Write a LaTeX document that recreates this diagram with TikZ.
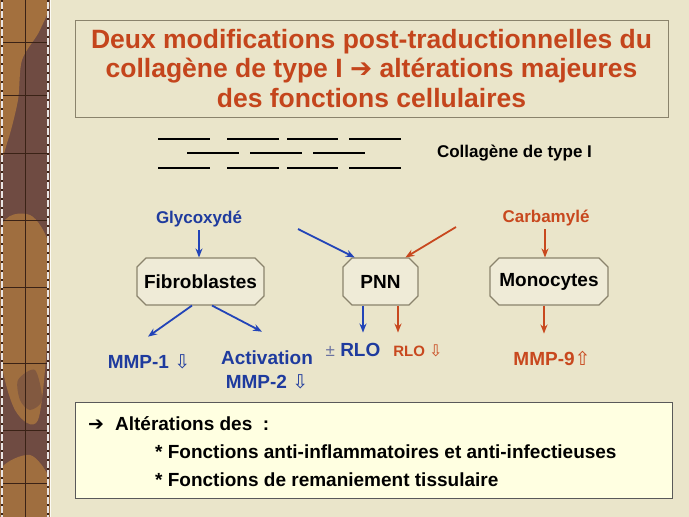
\documentclass[tikz,border=0pt]{standalone}
\usepackage{fontspec}
\setmainfont{Liberation Sans}
\newfontfamily\symfont{DejaVu Sans}
\usetikzlibrary{arrows.meta,positioning,shapes.misc}
\definecolor{parch}{HTML}{EAE5CA}
\definecolor{bark}{HTML}{6F4B42}
\definecolor{ochre}{HTML}{B07A3E}
\definecolor{grain}{HTML}{3A2216}
\definecolor{ttl}{HTML}{C4451C}
\definecolor{blu}{HTML}{1F3B9E}
\definecolor{arrblu}{HTML}{2244B8}
\definecolor{rst}{HTML}{C8481E}
\definecolor{edge}{HTML}{8A836C}
\definecolor{cellfill}{HTML}{EFEBD7}
\definecolor{note}{HTML}{FFFFE1}
\definecolor{pm}{HTML}{6A72A0}
\newcommand\heavyarr{{\symfont\mdseries ➔}}
\newcommand\hdown{{\symfont\mdseries\fontsize{19}{19}\selectfont ⇩}}
\newcommand\hup{{\symfont\mdseries\fontsize{19}{19}\selectfont ⇧}}
\tikzset{
  >={Stealth[length=9pt,width=7pt]},
  cell/.style={chamfered rectangle,chamfered rectangle xsep=4.5pt,chamfered rectangle ysep=4.5pt,
    draw=edge,fill=cellfill,line width=1.1pt,minimum height=47pt,inner sep=0pt,
    font=\fontsize{19}{22}\selectfont\bfseries},
  lbl/.style={font=\fontsize{17}{20}\selectfont\bfseries,inner sep=3pt},
  big/.style={font=\fontsize{19}{24}\selectfont\bfseries,inner sep=3pt,align=center},
  fiber/.style={line width=2.6pt,black},
  barr/.style={->,draw=arrblu,line width=1.8pt},
  rarr/.style={->,draw=rst,line width=1.8pt},
  notetxt/.style={font=\fontsize{19}{22}\selectfont\bfseries,inner sep=0pt,anchor=west},
}
\begin{document}
\begin{tikzpicture}[x=1pt,y=-1pt]
\useasboundingbox (0,0) rectangle (689,517);
\fill[parch] (0,0) rectangle (689,517);
% bark strip on the left
\begin{scope}
\clip (0,0) rectangle (50,517);
\fill[bark] (0,0) rectangle (50,517);
\fill[ochre,opacity=.8] plot[smooth cycle] coordinates {(0,0) (48,0) (40,30) (22,60) (18,100) (8,140) (0,150)};
\fill[ochre,opacity=.75] plot[smooth cycle] coordinates {(0,230) (30,215) (50,250) (48,330) (38,420) (15,410) (0,350)};
\fill[ochre,opacity=.75] plot[smooth cycle] coordinates {(0,470) (30,455) (50,480) (50,517) (0,517)};
\fill[bark,opacity=.6] plot[smooth cycle] coordinates {(18,380) (35,370) (42,400) (30,410) (20,400)};
\draw[grain,line width=0.8pt] (25,0) -- (25,517);
\foreach \yy in {42,95,153,220,287,363,430,483}
  \draw[grain,line width=0.8pt] (3,\yy) -- (47,\yy);
\draw[white!85!bark,line width=1.2pt] (2,0) -- (2,517) (48,0) -- (48,517);
\draw[grain,line width=1.6pt,dash pattern=on 2pt off 7pt] (2,0) -- (2,517) (48,0) -- (48,517);
\end{scope}
\draw[white!80!parch,line width=1pt] (50,0) -- (50,517);

% title
\node[draw=edge,line width=0.8pt,minimum width=593pt,minimum height=97pt,inner sep=0pt,
  align=center,text=ttl,font=\fontsize{26.5}{29.5}\selectfont\bfseries] (title) at (371.5,68.5)
  {Deux modifications post-traductionnelles du\\collagène de type I \heavyarr{} altérations majeures\\des fonctions cellulaires};

% collagen fibres
\foreach \xa/\xb in {158/210,227/279,287/338,349/401}{
  \draw[fiber] (\xa,139) -- (\xb,139);
  \draw[fiber] (\xa,168) -- (\xb,168);
}
\foreach \xa/\xb in {187/239,250/302,313/365}
  \draw[fiber] (\xa,153) -- (\xb,153);
\node[lbl] (colltxt) at (514.5,153) {Collagène de type I};

% cells
\node[cell,minimum width=127pt] (fib) at (200.5,281.5) {Fibroblastes};
\node[cell,minimum width=75pt] (pnn) at (380.5,281.5) {PNN};
\node[cell,minimum width=118pt] (mono) at (549,281.5) {Monocytes};

\node[lbl,text=blu] (glyc) at (199,219) {Glycoxydé};
\node[lbl,text=rst] (carb) at (546,218) {Carbamylé};
\coordinate (bsrc) at (298,229);
\coordinate (rsrc) at (456,227);

% outputs
\node[big,text=blu] (mmp1) at (149,362) {MMP-1 \hdown};
\node[big,text=blu] (act) at (267,370) {Activation\\MMP-2 \hdown};
\node[big,text=blu] (rlo1) at (353,350) {{\mdseries\fontsize{17}{17}\selectfont\color{pm}±} RLO};
\node[lbl,text=rst,font=\fontsize{15}{18}\selectfont\bfseries] (rlo2) at (418,351) {RLO {\symfont\mdseries\fontsize{16}{16}\selectfont ⇩}};
\node[big,text=rst] (mmp9) at (552,358) {MMP-9\hup};

% arrows
\draw[barr] (glyc.south) -- (glyc.south |- fib.north);
\draw[rarr] ([xshift=-1pt]carb.south) -- ([xshift=-1pt]carb.south |- mono.north);
\draw[barr] (bsrc) -- (pnn.137);
\draw[rarr] (rsrc) -- (pnn.44);
\draw[barr] ([xshift=-8.5pt]fib.south) -- ([xshift=-1pt,yshift=15pt]mmp1.north);
\draw[barr] ([xshift=11.5pt]fib.south) -- ([xshift=-5pt,yshift=16pt]act.north);
\draw[barr] ([xshift=-17.5pt]pnn.south) -- ([xshift=-17.5pt,yshift=-27pt]pnn.south);
\draw[rarr] ([xshift=17.5pt]pnn.south) -- ([xshift=17.5pt,yshift=-27pt]pnn.south);
\draw[rarr] ([xshift=-5pt]mono.south) -- ([xshift=-5pt,yshift=-28pt]mono.south);

% summary box
\node[draw=black!65,fill=note,line width=0.9pt,minimum width=597pt,minimum height=96pt] (note) at (373.5,450) {};
\node[notetxt] (alt) at (88,424) {\heavyarr\hspace{11pt}Altérations des~ :};
\node[notetxt] (fn1) at (155,452) {* Fonctions anti-inflammatoires et anti-infectieuses};
\node[notetxt] (fn2) at (155,480) {* Fonctions de remaniement tissulaire};
\end{tikzpicture}
\end{document}
